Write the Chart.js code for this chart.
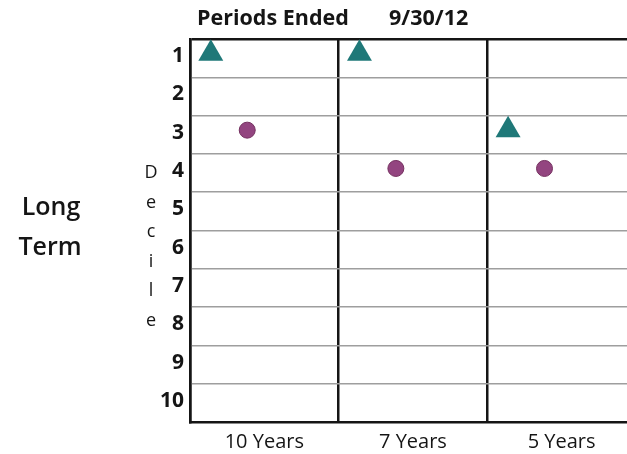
<!DOCTYPE html>
<html>
<head>
<meta charset="utf-8">
<script src="https://cdn.jsdelivr.net/npm/chart.js@4"></script>
<style>
  html, body { margin: 0; padding: 0; background: #fff; overflow: hidden; }
  #wrap { width: 627px; height: 454px; }
</style>
</head>
<body>
<div id="wrap"><canvas id="chart" width="627" height="454"></canvas></div>
<script>
// Data
const PERIODS = ['10 Years', '7 Years', '5 Years'];
const DECILES = [1, 2, 3, 4, 5, 6, 7, 8, 9, 10];
const TRIANGLE_RANK = [1, 1, 3];
const CIRCLE_RANK = [3, 4, 4];
const TITLE = ['Periods Ended', '9/30/12'];
const SIDE_LABEL = ['Long', 'Term'];
const AXIS_LABEL = 'Decile';

// Placement inside each period panel (fraction of panel width) and a small lift
const TRI_DX = 0.14;
const CIRC_DX = 0.385;
const Y_NUDGE = -0.12;
// the right edge of the last panel falls just outside the picture
const X_MAX = 2.94;

const FONT = '"Open Sans", "Noto Sans", sans-serif';
const INK = '#151515';

const toPoints = (ranks, dx) => ranks.map((r, i) => ({ x: i + dx, y: r + Y_NUDGE }));

// Extra text drawn on the canvas
const textLabels = {
  id: 'textLabels',
  afterDraw(chart) {
    const ctx = chart.ctx;
    ctx.save();
    ctx.fillStyle = INK;
    ctx.textBaseline = 'alphabetic';

    ctx.font = `bold 21.5px ${FONT}`;
    ctx.textAlign = 'left';
    ctx.fillText(TITLE[0], 197, 25);
    ctx.fillText(TITLE[1], 389, 25);

    ctx.font = `600 25px ${FONT}`;
    ctx.textAlign = 'center';
    ctx.fillText(SIDE_LABEL[0], 51, 215);
    ctx.fillText(SIDE_LABEL[1], 50, 255);

    ctx.font = `500 18px ${FONT}`;
    AXIS_LABEL.split('').forEach((ch, i) => {
      ctx.fillText(ch, 151, 178 + i * 29.5);
    });
    ctx.restore();
  },
};

const chart = new Chart(document.getElementById('chart').getContext('2d'), {
  type: 'scatter',
  data: {
    datasets: [
      { label: 'Triangle', data: toPoints(TRIANGLE_RANK, TRI_DX), pointStyle: 'triangle',
        pointRadius: 14.4, backgroundColor: '#1f7878', borderColor: '#1f7878', borderWidth: 0 },
      { label: 'Circle', data: toPoints(CIRCLE_RANK, CIRC_DX), pointStyle: 'circle',
        pointRadius: 8, backgroundColor: '#934580', borderColor: '#74305f', borderWidth: 1 },
    ],
  },
  options: {
    responsive: false,
    animation: false,
    events: [],
    clip: false,
    layout: { autoPadding: false, padding: { top: 39, right: 0, left: 0, bottom: 0 } },
    plugins: { legend: { display: false }, tooltip: { enabled: false } },
    scales: {
      x: {
        type: 'linear', min: 0, max: X_MAX,
        afterBuildTicks: s => { s.ticks = [0, 0.5, 1, 1.5, 2, 2.5].map(v => ({ value: v })); },
        afterFit: s => { s.height = 32; s.paddingLeft = 0; s.paddingRight = 0; },
        ticks: {
          autoSkip: false, maxRotation: 0, padding: 8, color: INK,
          font: { family: FONT, size: 20 },
          callback: v => Number.isInteger(v) ? '' : PERIODS[Math.floor(v)],
        },
        grid: {
          drawTicks: false, lineWidth: 2.5,
          color: c => Number.isInteger(c.tick.value) ? INK : 'rgba(0,0,0,0)',
        },
        border: { color: INK, width: 2.5 },
      },
      y: {
        type: 'linear', reverse: true, min: 0.5, max: 10.5,
        afterBuildTicks: s => {
          s.ticks = [0.5].concat(...DECILES.map(d => [d, d + 0.5])).map(v => ({ value: v }));
        },
        afterFit: s => { s.width = 190; s.paddingTop = 0; s.paddingBottom = 0; },
        ticks: {
          autoSkip: false, padding: 6, color: INK, labelOffset: -2,
          font: { family: FONT, size: 21, weight: 'bold' },
          callback: v => Number.isInteger(v) ? String(v) : '',
        },
        grid: {
          drawTicks: false,
          lineWidth: c => c.tick.value === 0.5 ? 2.5 : 1.5,
          color: c => {
            const v = c.tick.value;
            if (v === 0.5) return INK;
            if (Number.isInteger(v) || v === 10.5) return 'rgba(0,0,0,0)';
            return '#9e9e9e';
          },
        },
        border: { color: INK, width: 2.5 },
      },
    },
  },
  plugins: [textLabels],
});
</script>
</body>
</html>
